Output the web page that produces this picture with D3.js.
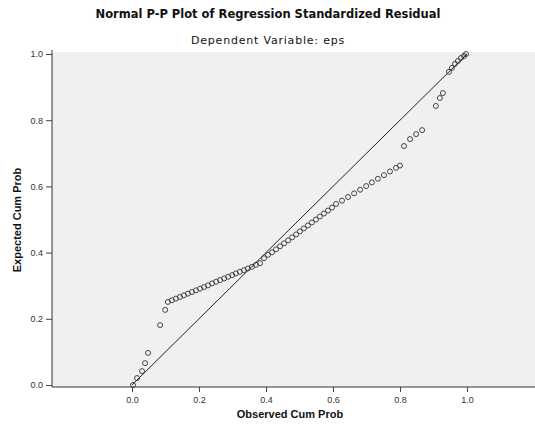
<!DOCTYPE html>
<html>
<head>
<meta charset="utf-8">
<style>
  body { margin: 0; background: #ffffff; font-family: Arial, "Liberation Sans", sans-serif; }
  .tick text { font-size: 9px; fill: #333; }
  .axis-title { font-size: 11px; font-weight: bold; fill: #111; }
</style>
</head>
<body>
<svg id="chart" width="535" height="428"></svg>
<script src="https://d3js.org/d3.v7.min.js"></script>
<script>
  // observed vs expected cumulative probability
  let observed = [0.003, 0.015, 0.030, 0.039, 0.048, 0.084, 0.099,
    0.107, 0.119, 0.131, 0.143, 0.155, 0.167, 0.179, 0.191, 0.203, 0.215, 0.227, 0.239,
    0.251, 0.263, 0.275, 0.287, 0.299, 0.310, 0.322, 0.334, 0.346, 0.358, 0.370, 0.382,
    0.394, 0.406, 0.418, 0.430, 0.442, 0.454, 0.466, 0.478, 0.490, 0.501, 0.513, 0.525,
    0.537, 0.549, 0.561, 0.573, 0.585, 0.597,
    0.609, 0.627, 0.645, 0.663, 0.681, 0.699, 0.716, 0.734, 0.752, 0.770, 0.788, 0.800,
    0.812, 0.830, 0.848, 0.866, 0.907, 0.919, 0.928,
    0.946, 0.955, 0.964, 0.973, 0.982, 0.991, 0.997]
  let expected = [0.000, 0.021, 0.042, 0.066, 0.097, 0.181, 0.227,
    0.251, 0.256, 0.261, 0.266, 0.271, 0.276, 0.281, 0.286, 0.291, 0.296, 0.301, 0.307,
    0.312, 0.317, 0.322, 0.327, 0.332, 0.337, 0.342, 0.347, 0.352, 0.357, 0.363, 0.368,
    0.383, 0.393, 0.401, 0.410, 0.419, 0.428, 0.437, 0.446, 0.455, 0.464, 0.473, 0.482,
    0.491, 0.500, 0.509, 0.518, 0.527, 0.536,
    0.547, 0.557, 0.568, 0.579, 0.590, 0.601, 0.612, 0.623, 0.634, 0.645, 0.656, 0.663,
    0.722, 0.743, 0.758, 0.770, 0.843, 0.867, 0.882,
    0.946, 0.958, 0.970, 0.979, 0.988, 0.994, 1.000]
  let tickValues = [0, 0.2, 0.4, 0.6, 0.8, 1.0]

  let titleText = "Normal P-P Plot of Regression Standardized Residual"
  let subtitleText = "Dependent Variable: eps"

  let svg = d3.select("#chart")
  let plot = {left: 52, right: 535, top: 52, bottom: 387}

  let xScale = d3.scaleLinear().domain([0, 1]).range([132, 467])
  let yScale = d3.scaleLinear().domain([0, 1]).range([385, 54])

  // plot background
  svg.append("rect")
    .attr("x", plot.left)
    .attr("y", plot.top)
    .attr("width", plot.right - plot.left)
    .attr("height", plot.bottom - plot.top)
    .attr("fill", "#f0f0f0")

  // titles
  svg.append("text")
    .attr("x", 268).attr("y", 18)
    .attr("text-anchor", "middle")
    .style("font-family", "'DejaVu Sans', sans-serif")
    .style("font-size", "11.5px").style("font-weight", "bold").style("fill", "#111")
    .text(titleText)
  svg.append("text")
    .attr("x", 268).attr("y", 44)
    .attr("text-anchor", "middle")
    .style("font-family", "'DejaVu Sans', sans-serif")
    .style("letter-spacing", "0.8px")
    .style("font-size", "11px").style("fill", "#111")
    .text(subtitleText)

  // axes
  let xAxis = d3.axisBottom(xScale).tickValues(tickValues).tickFormat(d3.format(".1f")).tickSize(5).tickSizeOuter(0)
  let gx = svg.append("g").attr("transform", `translate(0,${plot.bottom})`).call(xAxis)
  gx.select(".domain").remove()
  gx.selectAll(".tick line").attr("stroke", "#444")
  gx.selectAll(".tick text").attr("dy", "0.9em")

  let yAxis = d3.axisLeft(yScale).tickValues(tickValues).tickFormat(d3.format(".1f")).tickSize(6).tickSizeOuter(0)
  let gy = svg.append("g").attr("transform", `translate(${plot.left},0)`).call(yAxis)
  gy.select(".domain").remove()
  gy.selectAll(".tick line").attr("stroke", "#444")

  svg.append("line")
    .attr("x1", plot.left).attr("x2", plot.right)
    .attr("y1", plot.bottom).attr("y2", plot.bottom)
    .attr("stroke", "#333")
  svg.append("line")
    .attr("x1", plot.left).attr("x2", plot.left)
    .attr("y1", plot.top - 2).attr("y2", plot.bottom)
    .attr("stroke", "#333")

  // axis titles
  svg.append("text").attr("class", "axis-title")
    .attr("x", 290).attr("y", 418)
    .attr("text-anchor", "middle")
    .text("Observed Cum Prob")
  svg.append("text").attr("class", "axis-title")
    .attr("transform", "translate(21,220) rotate(-90)")
    .attr("text-anchor", "middle")
    .text("Expected Cum Prob")

  // reference diagonal
  svg.append("line")
    .attr("x1", xScale(0)).attr("y1", yScale(0))
    .attr("x2", xScale(1)).attr("y2", yScale(1))
    .attr("stroke", "#222")
    .attr("stroke-width", 1)

  // points
  let points = observed.map((o, i) => ({x: o, y: expected[i]}))
  svg.append("g").selectAll("circle")
    .data(points)
    .enter().append("circle")
    .attr("cx", d => xScale(d.x))
    .attr("cy", d => yScale(d.y))
    .attr("r", 2.5)
    .attr("fill", "none")
    .attr("stroke", "#333")
    .attr("stroke-width", 0.9)
</script>
</body>
</html>
